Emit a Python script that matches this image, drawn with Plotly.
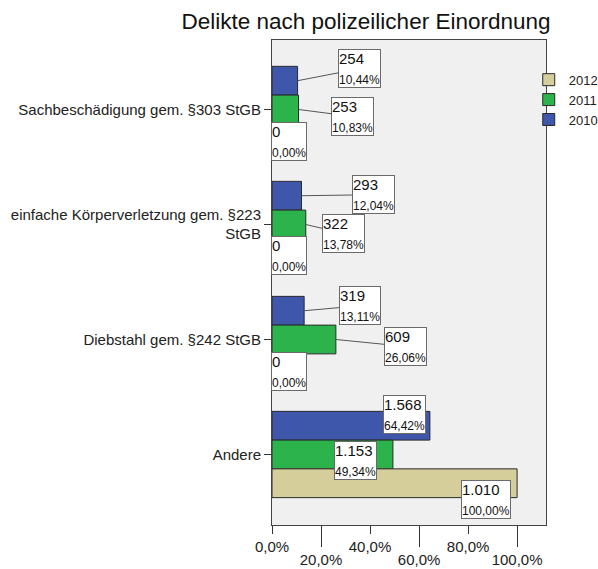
import plotly.graph_objects as go

# ---- data ----
categories = [
    "Sachbeschädigung gem. §303 StGB",
    "einfache Körperverletzung gem. §223<br>StGB",
    "Diebstahl gem. §242 StGB",
    "Andere",
]
years = ["2010", "2011", "2012"]
counts_2010 = [254, 293, 319, 1568]
counts_2011 = [253, 322, 609, 1153]
counts_2012 = [0, 0, 0, 1010]
pct_2010 = [10.44, 12.04, 13.11, 64.42]
pct_2011 = [10.83, 13.78, 26.06, 49.34]
pct_2012 = [0.00, 0.00, 0.00, 100.00]
x_ticks = [0, 20, 40, 60, 80, 100]

counts = {"2010": counts_2010, "2011": counts_2011, "2012": counts_2012}
pcts = {"2010": pct_2010, "2011": pct_2011, "2012": pct_2012}

# ---- style ----
colors = {"2010": "#3E57AA", "2011": "#2DB34B", "2012": "#D5CE9B"}
FONT = "Arial, Liberation Sans, sans-serif"
bargap = 0.25
bar_w = (1 - bargap) / len(years)

# label placement: (mode, dx, dy) in pixels, relative to bar end / bar centre
# mode 'arrow': box centre offset with leader line; 'left': box left edge at dx; 'right': box right edge at dx
placements = {
    ("2010", 0): ("arrow", 62, -12), ("2011", 0): ("arrow", 54, 7), ("2012", 0): ("left", -1, 3),
    ("2010", 1): ("arrow", 72, -1), ("2011", 1): ("arrow", 38, 9), ("2012", 1): ("left", -1, 2),
    ("2010", 2): ("arrow", 56, -5), ("2011", 2): ("arrow", 70, 7), ("2012", 2): ("left", -1, 3),
    ("2010", 3): ("right", -4, -11), ("2011", 3): ("right", -16, 6), ("2012", 3): ("right", -6, 16),
}


def fmt_count(c):
    return f"{c:,}".replace(",", ".")


def fmt_pct(p, d=2):
    return f"{p:.{d}f}".replace(".", ",") + "%"


fig = go.Figure()
for yr in years:
    fig.add_trace(go.Bar(
        name=yr, y=categories, x=pcts[yr], orientation="h",
        marker=dict(color=colors[yr], line=dict(color="#2a2a2a", width=1)),
        hoverinfo="skip",
    ))
# helper trace so the second (staggered) tick axis is drawn
fig.add_trace(go.Scatter(x=[None], y=[None], xaxis="x2", showlegend=False, hoverinfo="skip"))

annotations = []
for si, yr in enumerate(years):
    off = (si - (len(years) - 1) / 2) * bar_w
    for ci in range(len(categories)):
        mode, dx, dy = placements[(yr, ci)]
        text = (f"{fmt_count(counts[yr][ci])}<br>"
                f"<span style='font-size:12px'>{fmt_pct(pcts[yr][ci])}</span>")
        a = dict(x=pcts[yr][ci], y=ci + off, xref="x", yref="y", text=text,
                 align="left", font=dict(family=FONT, size=15, color="#111"),
                 bgcolor="white", bordercolor="#6a6a6a", borderwidth=1, borderpad=0)
        if mode == "arrow":
            a.update(showarrow=True, ax=dx, ay=dy, arrowhead=0, arrowwidth=1,
                     arrowcolor="#555", standoff=0)
        else:
            a.update(showarrow=False, xanchor=mode, yanchor="middle", xshift=dx, yshift=-dy)
        annotations.append(a)

fig.update_layout(
    width=598, height=569,
    margin=dict(l=272, r=52, t=40, b=44, autoexpand=False),
    paper_bgcolor="white", plot_bgcolor="#F0F0F0",
    barmode="group", bargap=bargap, bargroupgap=0,
    font=dict(family=FONT, color="#222"),
    title=dict(text="Delikte nach polizeilicher Einordnung", x=366 / 598, xanchor="center",
               xref="container", y=1 - 21 / 569, yanchor="middle", yref="container",
               font=dict(family=FONT, size=22.5, color="#111")),
    showlegend=True,
    legend=dict(x=0.937, xanchor="left", y=0.949, yanchor="top", traceorder="reversed",
                font=dict(family=FONT, size=13, color="#222"), bgcolor="rgba(0,0,0,0)",
                itemclick=False, itemdoubleclick=False),
    annotations=annotations,
    xaxis=dict(range=[0, 111.8], tickvals=x_ticks[0::2], ticktext=[fmt_pct(v, 1) for v in x_ticks[0::2]],
               ticks="outside", ticklen=8, tickcolor="#333", tickwidth=1, automargin=False,
               showgrid=False, zeroline=False, showline=True, linecolor="#444", linewidth=1,
               mirror=True, tickfont=dict(family=FONT, size=15, color="#222")),
    xaxis2=dict(overlaying="x", matches="x", side="bottom", anchor="y", automargin=False,
                tickvals=x_ticks[1::2], ticktext=[fmt_pct(v, 1) for v in x_ticks[1::2]],
                ticks="outside", ticklen=21, tickcolor="#333", tickwidth=1,
                showgrid=False, zeroline=False, showline=False,
                tickfont=dict(family=FONT, size=15, color="#222")),
    yaxis=dict(categoryorder="array", categoryarray=categories, range=[3.613, -0.604],
               ticks="outside", ticklen=7, tickcolor="#333", tickwidth=1, automargin=False,
               showgrid=False, zeroline=False, showline=True, linecolor="#444", linewidth=1,
               mirror=True, tickfont=dict(family=FONT, size=15, color="#222")),
)

fig.write_html("out.html", config={"displayModeBar": False},
               post_script="document.body.style.margin='0';document.body.style.overflow='hidden';")
